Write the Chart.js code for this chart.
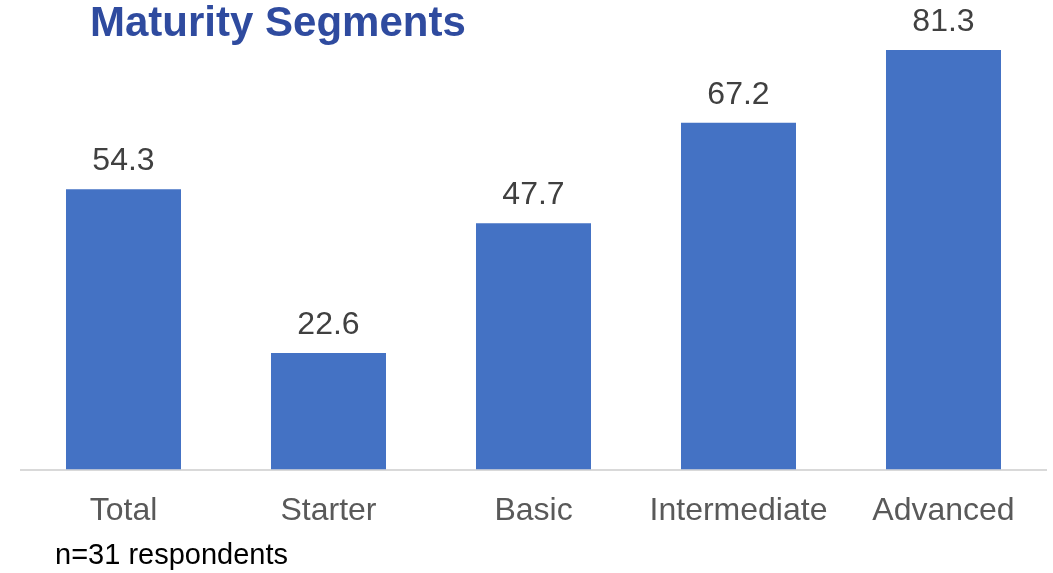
<!DOCTYPE html>
<html>
<head>
<meta charset="utf-8">
<script src="https://cdn.jsdelivr.net/npm/chart.js@4.4.1/dist/chart.umd.min.js"></script>
<style>
    html, body { margin: 0; padding: 0; background: #ffffff; }
    #wrap { position: relative; width: 1053px; height: 573px; }
    #title {
        position: absolute; left: 90px; top: 1px;
        font: bold 42px "Liberation Sans", Arial, sans-serif; line-height: 42px;
        color: #2F4B9F; white-space: nowrap;
    }
    #note {
        position: absolute; left: 55px; top: 540px;
        font: 29px "Liberation Sans", Arial, sans-serif; line-height: 29px;
        color: #000000; white-space: nowrap;
    }
</style>
</head>
<body>
<div id="wrap">
    <canvas id="myChart" width="1053" height="573"></canvas>
    <div id="title">Maturity Segments</div>
    <div id="note">n=31 respondents</div>
</div>
<script>
const segments = ["Total", "Starter", "Basic", "Intermediate", "Advanced"];
const scores = [54.3, 22.6, 47.7, 67.2, 81.3];

const fontFamily = "'Liberation Sans', Arial, sans-serif";

// writes the value over each bar
const valueLabels = {
    id: "valueLabels",
    afterDatasetsDraw(chart) {
        const ctx = chart.ctx;
        const meta = chart.getDatasetMeta(0);
        ctx.save();
        ctx.font = "32px " + fontFamily;
        ctx.fillStyle = "#404040";
        ctx.textAlign = "center";
        ctx.textBaseline = "alphabetic";
        meta.data.forEach((bar, i) => {
            ctx.fillText(scores[i].toFixed(1), bar.x, bar.y - 19);
        });
        ctx.restore();
    }
};

const ctx = document.getElementById("myChart").getContext("2d");
new Chart(ctx, {
    type: "bar",
    data: {
        labels: segments,
        datasets: [{
            data: scores,
            backgroundColor: "#4472C4",
            borderWidth: 0,
            categoryPercentage: 1,
            barPercentage: 0.561
        }]
    },
    options: {
        responsive: false,
        animation: false,
        layout: { padding: { top: 5, left: 21, right: 7, bottom: 21 } },
        plugins: {
            legend: { display: false },
            tooltip: { enabled: false }
        },
        scales: {
            x: {
                grid: { display: false, drawTicks: false },
                border: { display: true, color: "#D9D9D9", width: 2 },
                ticks: {
                    color: "#595959",
                    padding: 22,
                    font: { family: fontFamily, size: 32 }
                }
            },
            y: {
                display: false,
                min: 0,
                max: 90
            }
        }
    },
    plugins: [valueLabels]
});
</script>
</body>
</html>
